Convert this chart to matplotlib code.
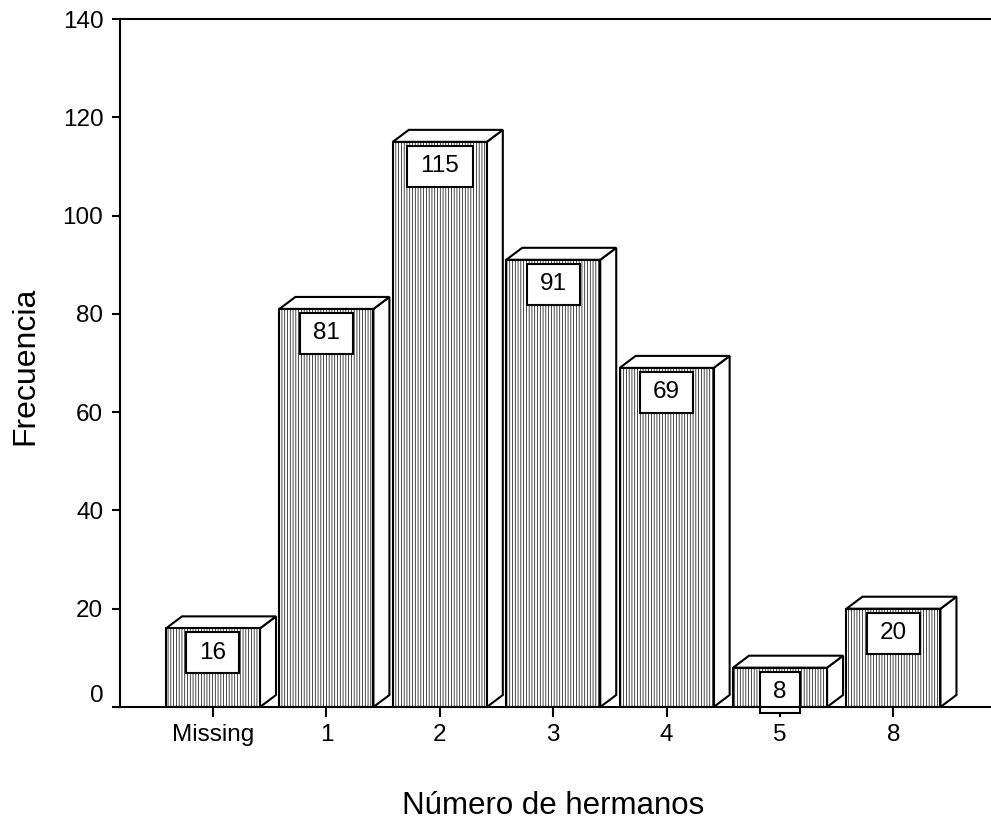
import matplotlib
matplotlib.use('Agg')
import matplotlib.pyplot as plt
import matplotlib.transforms as mtransforms
from matplotlib.patches import Polygon, Rectangle

plt.rcParams['font.family'] = ['Liberation Sans', 'DejaVu Sans']
plt.rcParams['hatch.linewidth'] = 0.5
plt.rcParams['hatch.color'] = 'black'

# Data
categories = ['Missing', '1', '2', '3', '4', '5', '8']
counts = [16, 81, 115, 91, 69, 8, 20]

W, H = 991, 824
fig = plt.figure(figsize=(W / 100, H / 100), dpi=100)
ax = fig.add_axes([120 / W, (H - 707) / H, (W - 120) / W, (707 - 19) / H])

x = list(range(len(categories)))
xmin, xmax = -0.82, 6.86
ax.set_xlim(xmin, xmax)
ax.set_ylim(0, 140)

# px per data unit, used for the 3D depth and label boxes
px_x = (W - 120) / (xmax - xmin)
px_y = (707 - 19) / 140.0
bar_w = 94 / px_x
dx = 16 / px_x
dy = 12 / px_y

for xi, v in zip(x, counts):
    xl, xr = xi - bar_w / 2, xi + bar_w / 2
    # side face
    ax.add_patch(Polygon([(xr, 0), (xr + dx, dy), (xr + dx, v + dy), (xr, v)],
                         closed=True, facecolor='white', edgecolor='black',
                         linewidth=1.5, joinstyle='miter', zorder=2, clip_on=False))
    # top face
    ax.add_patch(Polygon([(xl, v), (xl + dx, v + dy), (xr + dx, v + dy), (xr, v)],
                         closed=True, facecolor='white', edgecolor='black',
                         linewidth=1.5, joinstyle='miter', zorder=2, clip_on=False))

ax.bar(x, counts, width=bar_w, facecolor='white', edgecolor='black',
       linewidth=1.5, hatch='||||||', zorder=3)

# value label boxes
for xi, v in zip(x, counts):
    s = str(v)
    bw = (26 + 13.5 * len(s)) / px_x
    bh = 41 / px_y
    top = v - 4 / px_y
    ax.add_patch(Rectangle((xi - bw / 2, top - bh), bw, bh, facecolor='white',
                           edgecolor='black', linewidth=1.5, zorder=4, clip_on=False))
    ax.text(xi, top - bh / 2, s, ha='center', va='center', fontsize=17.5, zorder=5)

ax.set_xticks(x)
ax.set_xticklabels(categories)
ax.set_yticks(range(0, 141, 20))
ax.tick_params(axis='both', labelsize=17.5, width=1.5)
ax.tick_params(axis='y', length=6, pad=6)
ax.tick_params(axis='x', length=7, pad=5)

# the "0" label sits a bit above its tick in the original
zero_lbl = ax.get_yticklabels()[0]
zero_lbl.set_transform(zero_lbl.get_transform() +
                       mtransforms.ScaledTranslation(0, 10 / 72, fig.dpi_scale_trans))

for side in ['left', 'bottom', 'top']:
    ax.spines[side].set_linewidth(1.5)
    ax.spines[side].set_zorder(6)
ax.spines['right'].set_visible(False)

fig.text(25 / W, 1 - 366 / H, 'Frecuencia', rotation=90, ha='center', va='center', fontsize=23)
fig.text(553 / W, 1 - 806 / H, 'Número de hermanos', ha='center', va='center', fontsize=22.5)

fig.savefig('out.png', dpi=100)
